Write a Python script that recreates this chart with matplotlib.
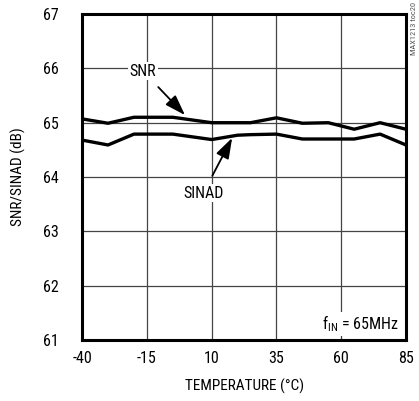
import matplotlib
matplotlib.use('Agg')
import matplotlib.pyplot as plt
from matplotlib import font_manager

names = {f.name for f in font_manager.fontManager.ttflist}
narrow = [n for n in ['Liberation Sans Narrow', 'DejaVu Sans Condensed', 'Roboto Condensed'] if n in names]
plt.rcParams['font.family'] = narrow + ['Liberation Sans', 'DejaVu Sans']
plt.rcParams['axes.unicode_minus'] = False

# data
temp = [-40, -30, -20, -5, 10, 20, 25, 35, 45, 55, 65, 75, 85]
snr = [65.07, 64.99, 65.10, 65.10, 65.00, 65.00, 65.00, 65.09, 64.99, 65.00, 64.88, 65.00, 64.88]
sinad = [64.68, 64.59, 64.79, 64.79, 64.69, 64.77, 64.78, 64.79, 64.70, 64.70, 64.70, 64.79, 64.59]

xticks = [-40, -15, 10, 35, 60, 85]
yticks = [61, 62, 63, 64, 65, 66, 67]

fig = plt.figure(figsize=(4.19, 4.01), dpi=100)
ax = fig.add_axes([0.196, 0.152, 0.773, 0.813])

ax.plot(temp, snr, color='black', lw=2.4, zorder=3)
ax.plot(temp, sinad, color='black', lw=2.4, zorder=3)

ax.set_xlim(-40, 85)
ax.set_ylim(61, 67)
ax.set_xticks(xticks)
ax.set_yticks(yticks)
ax.tick_params(length=0, labelsize=11.5)
ax.tick_params(axis='x', pad=8)
ax.tick_params(axis='y', pad=17)
ax.grid(True, color='#444444', lw=0.9)
for s in ax.spines.values():
    s.set_linewidth(2.2)

ax.set_xlabel('TEMPERATURE (°C)', fontsize=11, labelpad=9)
ax.set_ylabel('SNR/SINAD (dB)', fontsize=11, labelpad=12)

box = dict(facecolor='white', edgecolor='none', pad=1)
ax.annotate('SNR', xy=(-0.3, 65.14), xytext=(-16.5, 65.95), fontsize=11.5,
            ha='center', va='center', bbox=box, zorder=4,
            arrowprops=dict(arrowstyle='-|>,head_length=0.9,head_width=0.3', color='black', lw=1.3,
                            shrinkA=7, shrinkB=0, mutation_scale=14))
ax.annotate('SINAD', xy=(17.9, 64.72), xytext=(6.7, 63.70), fontsize=11.5,
            ha='center', va='center', bbox=box, zorder=4,
            arrowprops=dict(arrowstyle='-|>,head_length=0.9,head_width=0.3', color='black', lw=1.3,
                            shrinkA=7, shrinkB=0, mutation_scale=14))
ax.text(82, 61.3, '$\\mathregular{f_{IN}}$ = 65MHz', fontsize=11.5, ha='right', va='center',
        bbox=box, zorder=4)

fig.text(0.988, 0.995, 'MAX1213 toc20', rotation=90, fontsize=6, color='#555555',
         ha='center', va='top')

fig.savefig('out.png', dpi=100)
